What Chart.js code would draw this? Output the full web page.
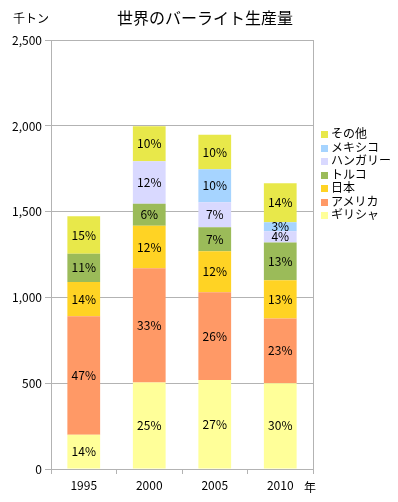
<!DOCTYPE html>
<html>
<head>
<meta charset="utf-8">
<script src="https://cdn.jsdelivr.net/npm/chart.js@4/dist/chart.umd.min.js"></script>
<style>
  body { margin: 0; background: #fff; }
  #wrap { position: relative; width: 398px; height: 502px; }
  #legend { position: absolute; left: 321px; top: 126px; font: 12px "Noto Sans CJK JP", sans-serif; color: #000; }
  #legend div { height: 13.5px; line-height: 13.5px; white-space: nowrap; }
  #legend span { display: inline-block; width: 7px; height: 7px; margin-right: 3px; vertical-align: 0px; }
</style>
</head>
<body>
<div id="wrap">
  <canvas id="chart"></canvas>
  <div id="legend"></div>
</div>
<script>
// 千トン
const years = ['1995', '2000', '2005', '2010'];
const seriesNames = ['ギリシャ', 'アメリカ', '日本', 'トルコ', 'ハンガリー', 'メキシコ', 'その他'];
const greece = [200, 505, 519, 500];
const usa = [690, 665, 511, 378];
const japan = [200, 248, 240, 222];
const turkey = [165, 128, 140, 220];
const hungary = [0, 248, 145, 66];
const mexico = [0, 0, 192, 53];
const others = [218, 205, 202, 227];
const yTicks = [0, 500, 1000, 1500, 2000, 2500];

const colors = ['#FFFF99', '#FF9966', '#FFD324', '#9BBB59', '#D9D9FF', '#A6D4FF', '#E8E84A'];
const allSeries = [greece, usa, japan, turkey, hungary, mexico, others];
const totals = years.map((y, j) => allSeries.reduce((s, arr) => s + arr[j], 0));

const fontFamily = '"Noto Sans CJK JP", sans-serif';
const gridColor = '#b3b3b3';

const labelPlugin = {
    id: 'labels',
    afterDatasetsDraw(chart) {
        const ctx = chart.ctx;
        ctx.save();
        ctx.font = '12px ' + fontFamily;
        ctx.fillStyle = '#000';
        ctx.textAlign = 'center';
        ctx.textBaseline = 'middle';
        chart.data.datasets.forEach((ds, i) => {
            const meta = chart.getDatasetMeta(i);
            meta.data.forEach((bar, j) => {
                const v = ds.data[j];
                if (!v) return;
                const pct = Math.round(v / totals[j] * 100) + '%';
                ctx.fillText(pct, bar.x, (bar.y + bar.base) / 2);
            });
        });
        // unit labels
        ctx.fillText('千トン', 31, 18);
        ctx.fillText('年', 310, 487);
        ctx.restore();
    }
};

new Chart(document.getElementById('chart'), {
    type: 'bar',
    data: {
        labels: years,
        datasets: seriesNames.map((name, i) => ({
            label: name,
            data: allSeries[i],
            backgroundColor: colors[i],
            borderWidth: 0,
            categoryPercentage: 1,
            barPercentage: 0.5,
        })),
    },
    options: {
        responsive: true,
        maintainAspectRatio: false,
        animation: false,
        layout: { padding: { left: 12, right: 0, top: 0, bottom: 0 } },
        plugins: {
            legend: { display: false },
            tooltip: { enabled: false },
            title: {
                display: true,
                text: '世界のバーライト生産量',
                color: '#000',
                font: { size: 16, weight: 'normal', family: fontFamily },
                padding: { top: 8, bottom: 13 },
            },
        },
        scales: {
            x: {
                stacked: true,
                grid: { display: true, drawOnChartArea: false, color: gridColor, tickLength: 5, offset: true },
                border: { display: true, color: gridColor },
                ticks: { color: '#000', font: { size: 12, family: fontFamily }, padding: 4 },
                afterFit(s) { s.height = 33; },
            },
            y: {
                stacked: true,
                min: 0,
                max: 2500,
                afterBuildTicks(s) { s.ticks = yTicks.map(v => ({ value: v })); },
                grid: { color: gridColor, tickLength: 6 },
                border: { display: true, color: gridColor },
                ticks: {
                    color: '#000',
                    font: { size: 12, family: fontFamily },
                    padding: 3,
                    callback: v => v.toLocaleString('en-US'),
                },
                afterFit(s) { s.width = 39; },
            },
            y2: {
                position: 'right',
                display: true,
                min: 0,
                max: 2500,
                grid: { display: false },
                border: { display: true, color: gridColor },
                ticks: { display: false },
                afterFit(s) { s.width = 85; },
            },
        },
    },
    plugins: [labelPlugin],
});

const legend = document.getElementById('legend');
for (let i = seriesNames.length - 1; i >= 0; i--) {
    const row = document.createElement('div');
    row.innerHTML = '<span style="background:' + colors[i] + '"></span>' + seriesNames[i];
    legend.appendChild(row);
}
</script>
</body>
</html>
